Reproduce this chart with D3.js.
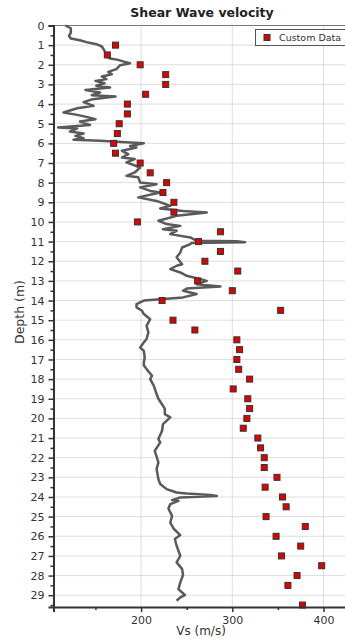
<!DOCTYPE html>
<html>
<head>
<meta charset="utf-8">
<script src="https://cdn.jsdelivr.net/npm/d3@7"></script>
<style>
  html, body { margin: 0; padding: 0; background: #fff; overflow: hidden; }
  #chart { width: 345px; height: 639px; }
  text { font-family: "DejaVu Sans", Verdana, sans-serif; }
</style>
</head>
<body>
<div id="chart"></div>
<script>
// Perfil continuo de Vs (profundidad en m, velocidad en m/s)
const profileDepth = [
  0.00, 0.14, 0.36, 0.53, 0.66, 0.75, 0.87, 0.95, 1.07, 1.29,
  1.55, 1.68, 1.75, 1.85, 1.92, 2.02, 2.22, 2.36, 2.48, 2.60,
  2.73, 2.82, 2.94, 3.07, 3.16, 3.28, 3.41, 3.55, 3.61, 3.75,
  3.90, 4.09, 4.21, 4.43, 4.55, 4.65, 4.77, 4.89, 5.06, 5.19,
  5.24, 5.40, 5.50, 5.62, 5.74, 5.82, 5.87, 5.99, 6.13, 6.21,
  6.38, 6.55, 6.72, 6.80, 6.97, 7.23, 7.48, 7.65, 7.73, 7.99,
  8.08, 8.24, 8.42, 8.50, 8.75, 8.93, 9.18, 9.31, 9.44, 9.52,
  9.69, 9.94, 10.11, 10.20, 10.37, 10.45, 10.62, 10.79, 10.96, 10.98,
  11.03, 11.07, 11.13, 11.30, 11.55, 11.80, 12.15, 12.23, 12.40, 12.57,
  12.74, 12.91, 13.00, 13.17, 13.28, 13.39, 13.50, 13.67, 13.84, 13.93,
  14.00, 14.18, 14.35, 14.52, 14.69, 14.95, 15.29, 15.62, 15.96, 16.13,
  16.39, 16.56, 16.90, 17.15, 17.30, 17.49, 17.83, 18.00, 18.34, 18.76,
  19.00, 19.50, 19.78, 19.95, 20.29, 20.63, 21.05, 21.22, 21.65, 22.24,
  22.58, 23.09, 23.34, 23.60, 23.77, 23.82, 23.90, 23.95, 24.02, 24.16,
  24.20, 24.36, 24.60, 24.96, 25.30, 25.63, 25.94, 26.14, 26.48, 26.99,
  27.33, 27.67, 27.97, 28.35, 28.69, 28.99, 29.11, 29.28
];
const profileVs = [
  117, 123, 123, 121, 123, 133, 142, 151, 157, 160,
  162, 166, 175, 182, 188, 177, 173, 164, 168, 157,
  162, 150, 160, 151, 166, 139, 155, 146, 172, 147,
  137, 148, 130, 115, 130, 140, 150, 133, 144, 109,
  130, 122, 137, 128, 137, 126, 155, 203, 188, 195,
  179, 186, 179, 193, 184, 199, 193, 184, 197, 199,
  217, 199, 210, 221, 197, 217, 232, 221, 246, 272,
  239, 219, 228, 243, 224, 239, 232, 254, 261, 305,
  314, 255, 254, 245, 243, 239, 245, 239, 232, 243,
  250, 265, 272, 261, 287, 250, 246, 261, 246, 221,
  203, 195, 195, 201, 203, 210, 206, 208, 206, 203,
  199, 203, 204, 203, 203, 206, 212, 210, 214, 217,
  219, 226, 226, 232, 224, 223, 219, 221, 215, 219,
  217, 219, 221, 228, 239, 250, 276, 283, 243, 234,
  241, 232, 230, 234, 232, 236, 243, 237, 239, 243,
  239, 245, 246, 243, 241, 248, 243, 239
];

// Serie "Custom Data"
const customDepth = [
  1, 1.5, 2, 2.5, 3, 3.5, 4, 4.5, 5, 5.5,
  6, 6.5, 7, 7.5, 8, 8.5, 9, 9.5, 10, 10.5,
  11, 11.5, 12, 12.5, 13, 13.5, 14, 14.5, 15, 15.5,
  16, 16.5, 17, 17.5, 18, 18.5, 19, 19.5, 20, 20.5,
  21, 21.5, 22, 22.5, 23, 23.5, 24, 24.5, 25, 25.5,
  26, 26.5, 27, 27.5, 28, 28.5, 29.5
];
const customVs = [
  172, 163, 199, 227, 227, 205, 185, 185, 176, 174,
  170, 172, 199, 210, 228, 224, 236, 236, 196, 287,
  263, 287, 270, 306, 262, 300, 223, 353, 235, 259,
  305, 308, 305, 307, 319, 301, 317, 319, 316, 312,
  328, 331, 335, 335, 349, 336, 355, 359, 337, 380,
  348, 375, 354, 398, 371, 361, 377
];

// Marcas de los ejes
const depthTicks = [0, 1, 2, 3, 4, 5, 6, 7, 8, 9, 10, 11, 12, 13, 14,
  15, 16, 17, 18, 19, 20, 21, 22, 23, 24, 25, 26, 27, 28, 29];
const depthMinorTicks = depthTicks.map(d => d + 0.5);
const vsTicks = [200, 300, 400];
const vsMinorTicks = [150, 250, 350];

function renderChart() {
    const width = 345;
    const height = 639;
    const plot = { left: 53.5, right: 360, top: 25.5, bottom: 607 };

    const svg = d3.select('#chart').append('svg')
        .attr('width', width)
        .attr('height', height)
        .style('overflow', 'hidden');

    // Escalas
    const xScale = d3.scaleLinear().domain([104, 440]).range([plot.left, plot.right]);
    const yScale = d3.scaleLinear().domain([0, 29.6]).range([plot.top, plot.bottom]);

    // Rejilla punteada
    const grid = svg.append('g');
    grid.selectAll('.hgrid')
        .data(depthTicks.slice(1))
        .enter()
        .append('line')
        .attr('x1', plot.left)
        .attr('x2', plot.right)
        .attr('y1', d => yScale(d))
        .attr('y2', d => yScale(d))
        .attr('stroke', '#bdbdbd')
        .attr('stroke-dasharray', '1,1');
    grid.selectAll('.vgrid')
        .data(vsTicks)
        .enter()
        .append('line')
        .attr('x1', d => xScale(d))
        .attr('x2', d => xScale(d))
        .attr('y1', plot.top)
        .attr('y2', plot.bottom)
        .attr('stroke', '#bdbdbd')
        .attr('stroke-dasharray', '1,1');

    // Borde superior
    svg.append('line')
        .attr('x1', plot.left).attr('x2', plot.right)
        .attr('y1', plot.top).attr('y2', plot.top)
        .attr('stroke', '#777');

    // Perfil de Vs
    const line = d3.line()
        .x((d, i) => xScale(profileVs[i]))
        .y(d => yScale(d));
    svg.append('path')
        .datum(profileDepth)
        .attr('d', line)
        .attr('fill', 'none')
        .attr('stroke', '#5a5a5a')
        .attr('stroke-width', 2.5)
        .attr('stroke-linejoin', 'round');

    // Puntos Custom Data
    svg.selectAll('.pt')
        .data(customDepth)
        .enter()
        .append('rect')
        .attr('x', (d, i) => xScale(customVs[i]) - 3)
        .attr('y', d => yScale(d) - 3)
        .attr('width', 6)
        .attr('height', 6)
        .attr('fill', '#e00000')
        .attr('stroke', '#333')
        .attr('stroke-width', 1);

    // Eje Y
    svg.append('g')
        .attr('transform', `translate(${plot.left},0)`)
        .call(d3.axisLeft(yScale).tickValues(depthTicks).tickSize(5).tickPadding(4));
    svg.append('g')
        .attr('transform', `translate(${plot.left},0)`)
        .call(d3.axisLeft(yScale).tickValues(depthMinorTicks).tickSize(3).tickFormat(''))
        .select('.domain').remove();

    // Eje X
    svg.append('g')
        .attr('transform', `translate(0,${plot.bottom})`)
        .call(d3.axisBottom(xScale).tickValues(vsTicks).tickSize(5).tickPadding(4));
    svg.append('g')
        .attr('transform', `translate(0,${plot.bottom})`)
        .call(d3.axisBottom(xScale).tickValues(vsMinorTicks).tickSize(3).tickFormat(''))
        .select('.domain').remove();

    svg.selectAll('.domain')
        .attr('stroke', '#333')
        .attr('stroke-width', 2);
    svg.selectAll('.tick line')
        .attr('stroke', '#333')
        .attr('stroke-width', 1.5);
    svg.selectAll('.tick text')
        .attr('fill', '#333')
        .style('font-size', '11px')
        .style('font-family', '"DejaVu Sans", Verdana, sans-serif');

    // Títulos
    svg.append('text')
        .attr('x', 202)
        .attr('y', 17)
        .attr('text-anchor', 'middle')
        .attr('fill', '#222')
        .attr('font-size', '12.5px')
        .attr('font-weight', 'bold')
        .text('Shear Wave velocity');

    svg.append('text')
        .attr('x', 201)
        .attr('y', 635)
        .attr('text-anchor', 'middle')
        .attr('fill', '#333')
        .attr('font-size', '12px')
        .text('Vs (m/s)');

    svg.append('text')
        .attr('transform', 'translate(24,312) rotate(-90)')
        .attr('text-anchor', 'middle')
        .attr('fill', '#333')
        .attr('font-size', '12.5px')
        .text('Depth (m)');

    // Leyenda
    const legend = svg.append('g');
    legend.append('rect')
        .attr('x', 255.5)
        .attr('y', 29.5)
        .attr('width', 110)
        .attr('height', 16)
        .attr('fill', '#fff')
        .attr('stroke', '#555');
    legend.append('rect')
        .attr('x', 264)
        .attr('y', 34.5)
        .attr('width', 6)
        .attr('height', 6)
        .attr('fill', '#e00000')
        .attr('stroke', '#333');
    legend.append('text')
        .attr('x', 279)
        .attr('y', 41)
        .attr('fill', '#333')
        .attr('font-size', '9.5px')
        .text('Custom Data');
}

renderChart();
</script>
</body>
</html>
